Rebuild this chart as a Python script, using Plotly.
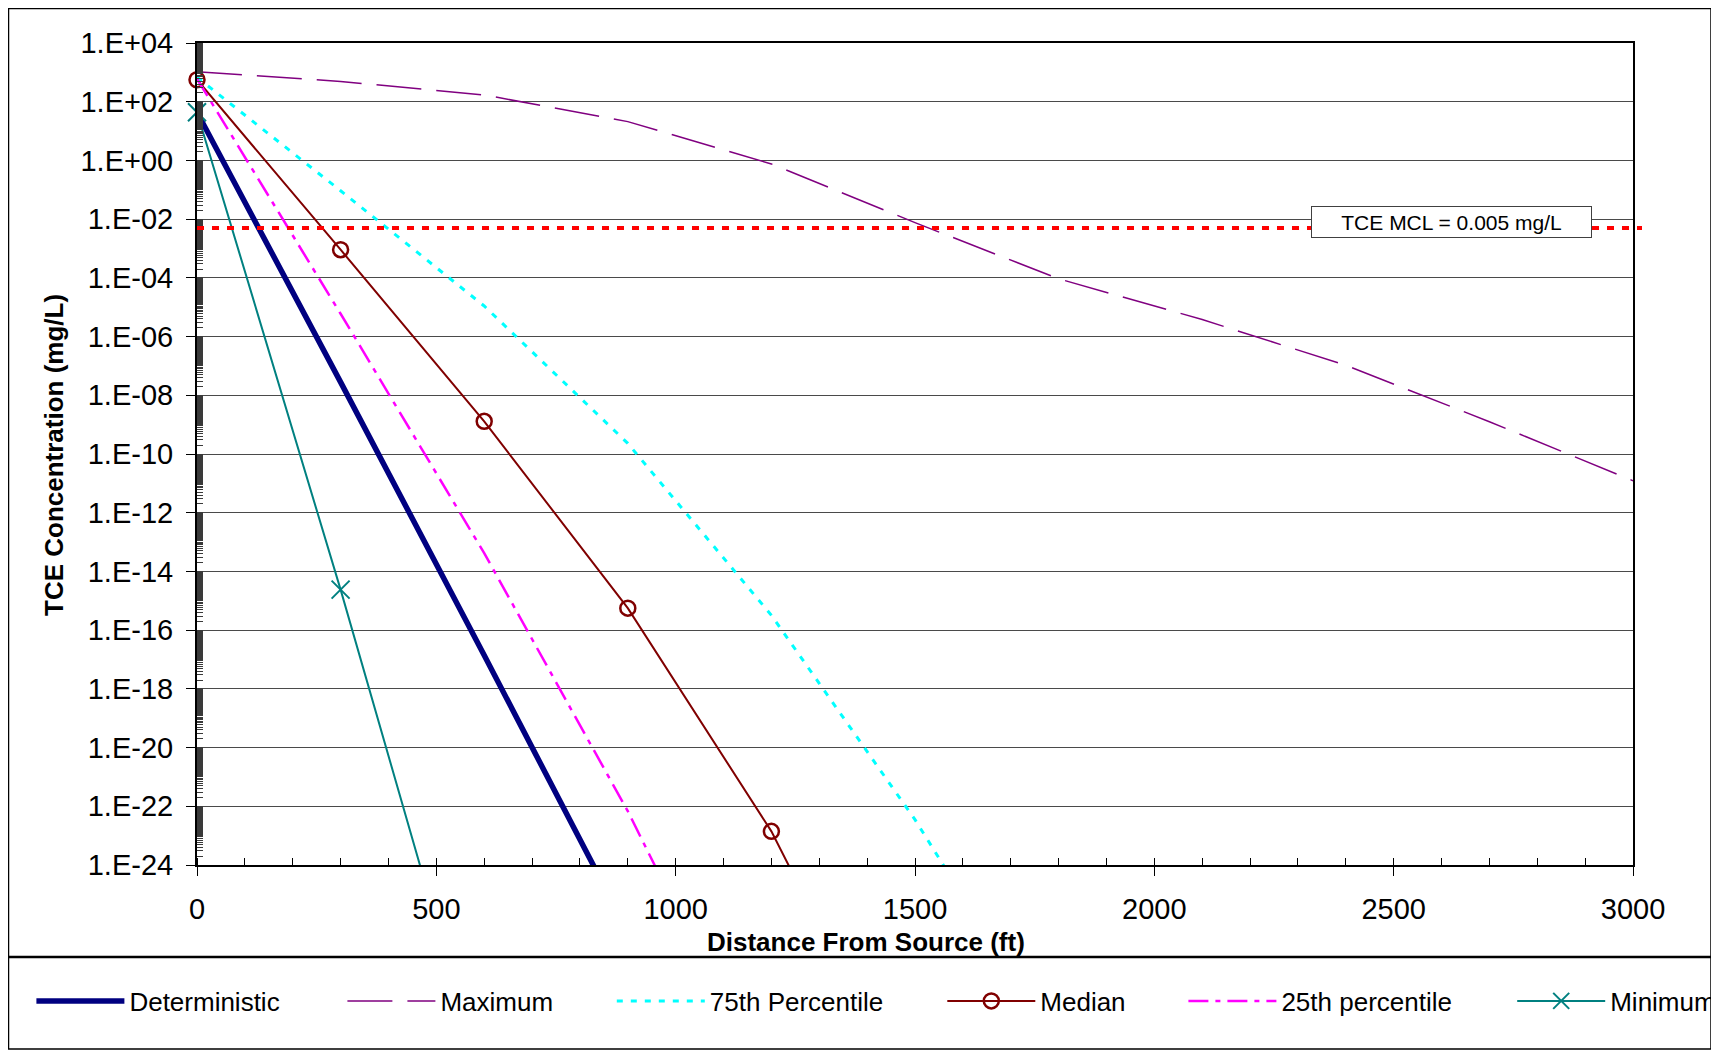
import plotly.graph_objects as go

# ---------------- data ----------------
mcl_value = 0.005  # mg/L
mcl_label = "TCE MCL = 0.005 mg/L"

det_x = [0, 300, 600, 900]
det_y = [4.4e1, 2.8e-8, 1.4e-17, 5.4e-27]

max_x = [0, 300, 600, 900, 1200, 1500, 1800, 2100, 2400, 2700, 3000]
max_y = [1.05e3, 4.9e2, 1.7e2, 2.1e1, 7.6e-1, 7.6e-3, 9.3e-5, 3.8e-6, 1.05e-7, 1.26e-9, 1.23e-11]

p75_x = [0, 300, 600, 900, 1200, 1500, 1800]
p75_y = [6.8e2, 9.3e-2, 1.1e-5, 2.3e-10, 3.2e-16, 3.5e-23, 5.0e-31]

med_x = [0, 300, 600, 900, 1200, 1500]
med_y = [5.6e2, 9.1e-4, 1.3e-9, 5.6e-16, 1.4e-23, 3.2e-33]

p25_x = [0, 300, 600, 900, 1200]
p25_y = [6.0e2, 6.0e-6, 4.2e-14, 6.8e-23, 1.0e-32]

min_x = [0, 300, 600]
min_y = [4.4e1, 2.4e-15, 2.5e-32]

y_tickvals = [1e4, 1e2, 1e0, 1e-2, 1e-4, 1e-6, 1e-8, 1e-10, 1e-12, 1e-14,
              1e-16, 1e-18, 1e-20, 1e-22, 1e-24]
y_ticktext = ["1.E+04", "1.E+02", "1.E+00", "1.E-02", "1.E-04", "1.E-06", "1.E-08",
              "1.E-10", "1.E-12", "1.E-14", "1.E-16", "1.E-18", "1.E-20", "1.E-22", "1.E-24"]
x_tickvals = [0, 500, 1000, 1500, 2000, 2500, 3000]

# ---------------- layout geometry (page pixels; page has 8px body margin) ----------------
OFF = 8
FIG_W, FIG_H = 1719 - OFF, 1052 - OFF
L, R, T, B = 197 - OFF, 1633 - OFF, 43 - OFF, 865 - OFF
PW, PH = R - L, B - T
FONT = "Liberation Sans, Arial, sans-serif"


def px_x(page_px):
    return (page_px - OFF - L) / PW


def px_y(page_py):
    return (B - (page_py - OFF)) / PH


# minor ticks like an Excel log axis with base 100
y_minor = [k * 100.0 ** n for n in range(-12, 2) for k in range(2, 100)]

fig = go.Figure()

fig.add_trace(go.Scatter(x=det_x, y=det_y, mode="lines", name="Deterministic",
                         line=dict(color="#000080", width=5.5), legend="legend"))
fig.add_trace(go.Scatter(x=max_x, y=max_y, mode="lines", name="Maximum",
                         line=dict(color="#800080", width=1.5, dash="45px,15px"), legend="legend2"))
fig.add_trace(go.Scatter(x=p75_x, y=p75_y, mode="lines", name="75th Percentile",
                         line=dict(color="#00FFFF", width=3, dash="6px,8px"), legend="legend3"))
fig.add_trace(go.Scatter(x=med_x, y=med_y, mode="lines+markers", name="Median",
                         line=dict(color="#800000", width=2),
                         marker=dict(symbol="circle-open", size=15, color="#800000",
                                     line=dict(width=2.5, color="#800000")),
                         cliponaxis=False, legend="legend4"))
fig.add_trace(go.Scatter(x=p25_x, y=p25_y, mode="lines", name="25th percentile",
                         line=dict(color="#FF00FF", width=2.5, dash="20px,7px,5px,7px"), legend="legend5"))
fig.add_trace(go.Scatter(x=min_x, y=min_y, mode="lines+markers", name="Minimum",
                         line=dict(color="#008080", width=2),
                         marker=dict(symbol="x-thin-open", size=18, color="#008080",
                                     line=dict(width=2, color="#008080")),
                         cliponaxis=False, legend="legend6"))

# MCL reference line (shape positions on a log axis are given in data units)
fig.add_shape(type="line", xref="paper", yref="y", x0=0, x1=px_x(1642),
              y0=mcl_value, y1=mcl_value,
              line=dict(color="#FF0000", width=4, dash="7px,8px"), layer="above")

# outer chart border and legend box
fig.add_shape(type="rect", xref="paper", yref="paper", x0=px_x(8.5), x1=px_x(1711),
              y0=px_y(1049), y1=px_y(8.5), line=dict(color="black", width=1.5), layer="below")
fig.add_shape(type="line", xref="paper", yref="paper", x0=px_x(8), x1=px_x(1719),
              y0=px_y(957), y1=px_y(957), line=dict(color="black", width=2.5))

# MCL label
fig.add_annotation(x=px_x(1451.5), y=px_y(222), xref="paper", yref="paper",
                   xanchor="center", yanchor="middle",
                   text=mcl_label, showarrow=False,
                   font=dict(family=FONT, size=21, color="black"),
                   bgcolor="white", bordercolor="#404040", borderwidth=1,
                   width=277, height=28, align="center")

# axis titles
fig.add_annotation(x=px_x(866), y=px_y(942), xref="paper", yref="paper",
                   xanchor="center", yanchor="middle",
                   text="<b>Distance From Source (ft)</b>", showarrow=False,
                   font=dict(family=FONT, size=26, color="black"))
fig.add_annotation(x=px_x(54), y=px_y(455), xref="paper", yref="paper",
                   xanchor="center", yanchor="middle",
                   text="<b>TCE Concentration (mg/L)</b>", showarrow=False, textangle=-90,
                   font=dict(family=FONT, size=26, color="black"))

legend_starts = [38.4, 349.4, 618.8, 949.3, 1190.4, 1519.2]
legend_names = ["legend", "legend2", "legend3", "legend4", "legend5", "legend6"]
legend_layout = {}
for nm, sx in zip(legend_names, legend_starts):
    legend_layout[nm] = dict(x=px_x(sx - 7), y=px_y(1001), xanchor="left", yanchor="middle",
                             orientation="h", bgcolor="rgba(0,0,0,0)", borderwidth=0,
                             itemwidth=88, font=dict(family=FONT, size=26, color="black"))

fig.update_layout(
    width=FIG_W, height=FIG_H,
    margin=dict(l=L, r=FIG_W - R, t=T, b=FIG_H - B, pad=0, autoexpand=False),
    paper_bgcolor="white", plot_bgcolor="white",
    font=dict(family=FONT, color="black"),
    showlegend=True,
    **legend_layout,
)

fig.update_xaxes(range=[0, 3000], tickvals=x_tickvals, ticks="outside", ticklen=9,
                 tickwidth=1, tickcolor="black", showgrid=False, zeroline=False,
                 showline=True, linewidth=2, linecolor="black", mirror=True,
                 ticklabelstandoff=8,
                 tickfont=dict(family=FONT, size=29, color="black"),
                 minor=dict(dtick=100, ticks="inside", ticklen=7, tickwidth=1, tickcolor="black",
                            showgrid=False))
fig.update_yaxes(type="log", range=[-24, 4], tickvals=y_tickvals, ticktext=y_ticktext,
                 ticks="outside", ticklen=9, tickwidth=1, tickcolor="black",
                 showgrid=True, gridcolor="#4a4a4a", gridwidth=1, zeroline=False,
                 showline=True, linewidth=2, linecolor="black", mirror=True,
                 ticklabelstandoff=7,
                 tickfont=dict(family=FONT, size=29, color="black"),
                 minor=dict(tickmode="array", tickvals=y_minor, ticks="inside", ticklen=6,
                            tickwidth=1, tickcolor="#3a3a3a", showgrid=False))

fig.write_html("out.html")
